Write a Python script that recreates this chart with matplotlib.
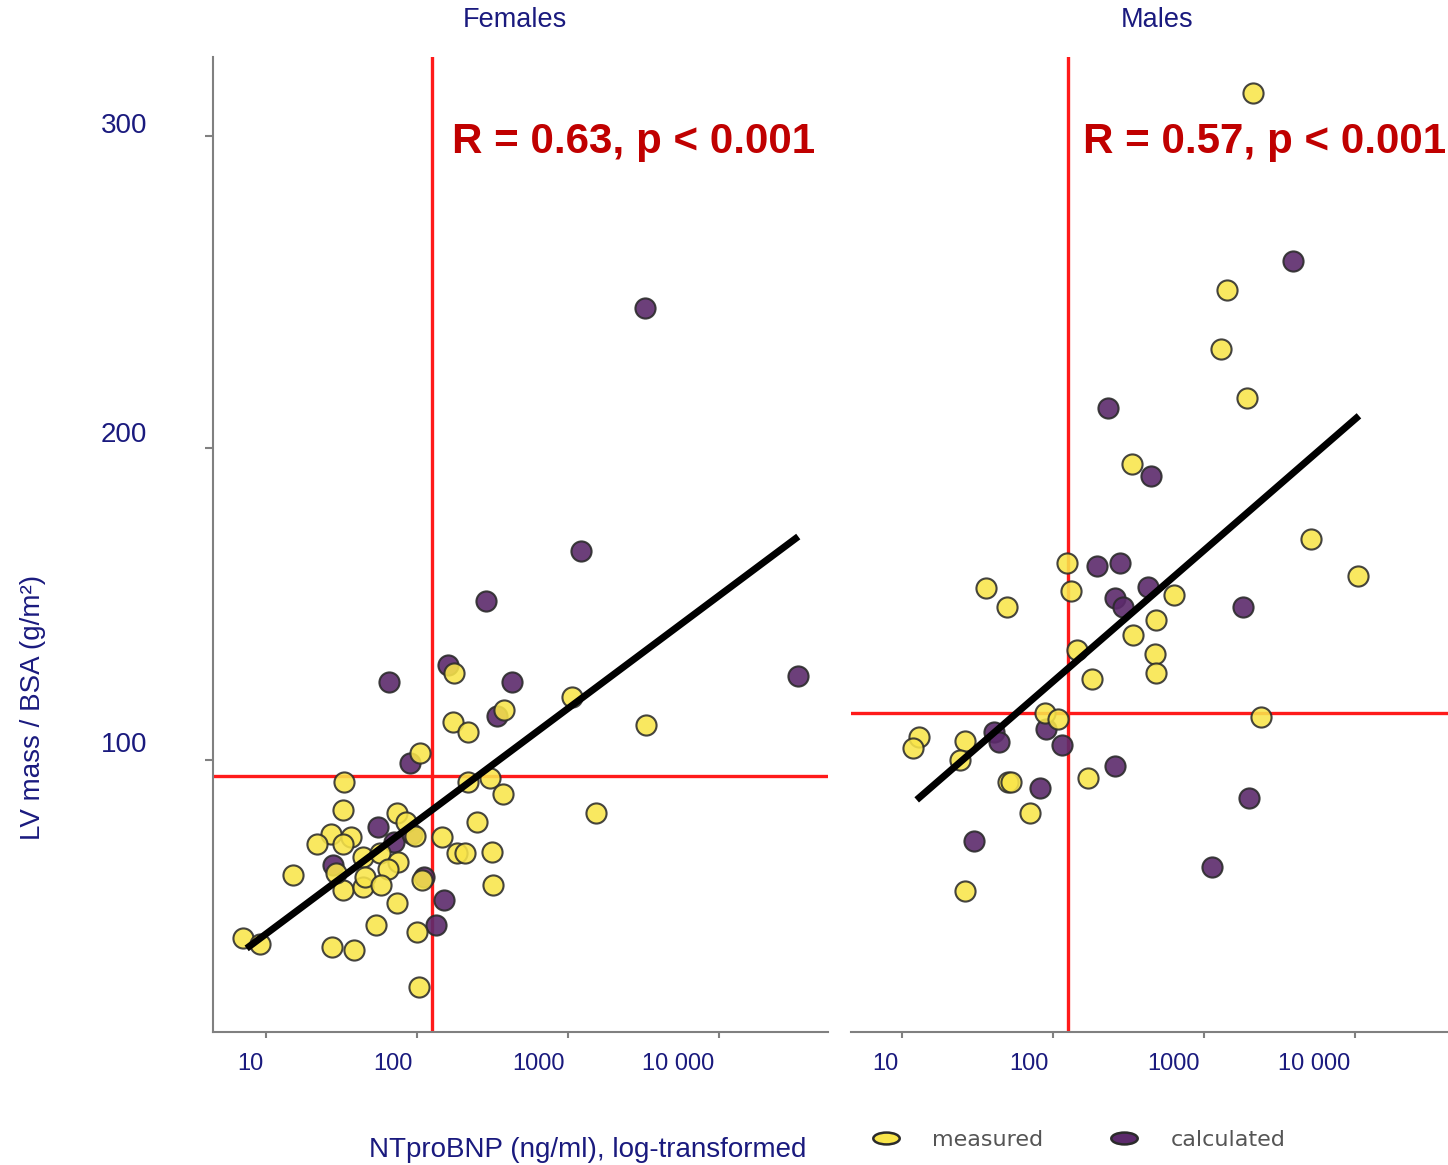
import matplotlib
matplotlib.use("Agg")
import matplotlib.pyplot as plt
from matplotlib.ticker import FixedLocator, FixedFormatter, NullFormatter
from matplotlib.lines import Line2D
from matplotlib.path import Path
from matplotlib.transforms import Affine2D, Bbox, TransformedBbox

plt.rcParams['font.family'] = ['Liberation Sans', 'DejaVu Sans']

# ---------------- data ----------------
# Females, measured (NTproBNP, LV mass/BSA)
fem_meas_x = [32.7, 215, 302, 370, 32, 73.5, 83.5, 250, 145, 26.7, 36.3, 21.7, 32, 43.8, 56.5,
              182, 206, 310, 74.6, 64.1, 14.9, 32, 43.8, 44.9, 57.3, 73.5, 318, 7.0, 9.06, 53.1,
              98.8, 27.0, 38.0, 102, 173, 217, 104, 175, 374, 28.7, 107, 96.2, 1055, 3260, 1521]
fem_meas_y = [93.0, 93.0, 94.1, 89.1, 84.0, 83.1, 80.2, 80.2, 75.2, 76.2, 75.4, 73.1, 73.1, 69.0, 70.1,
              70.1, 70.1, 70.4, 67.4, 65.0, 63.1, 58.3, 59.2, 62.4, 59.9, 54.1, 59.9, 42.9, 41.0, 47.1,
              45.0, 40.2, 39.1, 27.3, 112.3, 109.1, 102.1, 127.8, 116.0, 63.7, 61.5, 75.6, 120.2, 111.2, 83.0]
# Females, calculated
fem_calc_x = [3210, 1210, 284, 33100, 160, 65.1, 421, 335, 89.2, 54.5, 69.9, 27.7, 110, 150, 133, 92]
fem_calc_y = [244.9, 167.0, 151.0, 126.9, 130.4, 125.1, 125.1, 114.1, 98.9, 78.4, 73.8, 66.3, 62.4,
              55.1, 47.1, 76.3]
# Males, measured
mal_meas_x = [123, 131, 36.0, 49.4, 636, 479, 340, 144, 473, 479, 180, 88.5, 108, 2385, 13.0, 11.9,
              26.1, 24.2, 50.6, 52.4, 170, 70.4, 26.1, 2110, 1420, 1296, 1927, 334, 5110, 10470]
mal_meas_y = [163.0, 154.2, 155.0, 148.9, 152.9, 144.9, 140.1, 135.3, 134.0, 127.8, 126.0, 115.2, 113.0,
              113.9, 107.3, 103.8, 106.2, 100.0, 93.0, 92.9, 94.1, 82.9, 58.1, 313.8, 250.6, 231.7,
              216.0, 194.9, 170.8, 159.0]
# Males, calculated
mal_calc_x = [197, 278, 428, 257, 292, 1820, 40.8, 43.9, 89.5, 115, 257, 82.0, 1986, 30.1, 1125, 3880, 231, 446]
mal_calc_y = [162.0, 163.0, 155.5, 152.0, 148.9, 148.9, 109.1, 105.9, 109.8, 104.8, 97.9, 90.9, 87.9,
              74.1, 65.8, 259.9, 212.8, 191.0]

# regression line end points
fem_fit_x = [7.4, 33270]
fem_fit_y = [39.6, 171.6]
mal_fit_x = [12.5, 10620]
mal_fit_y = [87.2, 210.3]

# cut-offs
bnp_cut = 125
fem_lvm_cut = 95
mal_lvm_cut = 115

panel_titles = ['Females', 'Males']
stats_text = ['R = 0.63, p < 0.001', 'R = 0.57, p < 0.001']

x_ticks = [10, 100, 1000, 10000]
x_label_pos = [7.8, 69, 630, 5330]
x_tick_labels = ['10', '100', '1000', '10 000']
y_ticks = [100, 200, 300]
y_label_pos = [105.8, 205.1, 304.2]
y_tick_labels = ['100', '200', '300']

legend_labels = ['measured', 'calculated']

# ---------------- style ----------------
NAVY = '#1a1a7e'
YEL = '#f9e54a'
PUR = '#5c2a6c'
EDGE = '#2b2b2b'
RED = '#ff1a1a'
DARKRED = '#c00000'
GRAY = '#808080'

W, H = 1448, 1165
fig = plt.figure(figsize=(W / 100, H / 100), dpi=100)
ax1 = fig.add_axes([213 / W, 133 / H, 615 / W, 975 / H])
ax2 = fig.add_axes([851 / W, 133 / H, 597 / W, 975 / H])

ylim = (12.8, 325.3)
panels = [
    (ax1, fem_meas_x, fem_meas_y, fem_calc_x, fem_calc_y, fem_fit_x, fem_fit_y, fem_lvm_cut, (4.43, 52360), 0.491),
    (ax2, mal_meas_x, mal_meas_y, mal_calc_x, mal_calc_y, mal_fit_x, mal_fit_y, mal_lvm_cut, (4.59, 41300), 0.5126),
]

for i, (ax, mx, my, cx, cy, fx, fy, hcut, xlim, tx) in enumerate(panels):
    ax.set_xscale('log')
    ax.set_xlim(*xlim)
    ax.set_ylim(*ylim)
    ax.axvline(bnp_cut, color=RED, lw=2.4, zorder=1)
    ax.axhline(hcut, color=RED, lw=2.4, zorder=1)
    ax.scatter(cx, cy, s=210, c=PUR, edgecolors=EDGE, linewidths=1.5, alpha=0.9, zorder=3)
    ax.scatter(mx, my, s=210, c=YEL, edgecolors=EDGE, linewidths=1.5, alpha=0.88, zorder=4)
    ax.plot(fx, fy, color='black', lw=5, solid_capstyle='butt', zorder=5)

    for s in ['top', 'right']:
        ax.spines[s].set_visible(False)
    ax.spines['bottom'].set_color(GRAY)
    ax.spines['bottom'].set_linewidth(1.5)

    ax.xaxis.set_major_locator(FixedLocator(x_ticks))
    ax.xaxis.set_major_formatter(NullFormatter())
    ax.xaxis.set_minor_locator(FixedLocator(x_label_pos))
    ax.xaxis.set_minor_formatter(FixedFormatter(x_tick_labels))
    ax.tick_params(axis='x', which='major', length=4.5, width=1.5, color=GRAY, direction='out')
    ax.tick_params(axis='x', which='minor', length=0, pad=15, labelsize=17, labelcolor=NAVY)

    ax.set_title(panel_titles[i], fontsize=19.5, color=NAVY, x=tx, pad=21.5)
    ax.text(0.3886, 0.9018, stats_text[i], transform=ax.transAxes, fontsize=30.3, fontweight='bold',
            color=DARKRED, va='baseline', ha='left', clip_on=False, zorder=6)

# Females y axis
ax1.spines['left'].set_color(GRAY)
ax1.spines['left'].set_linewidth(1.5)
ax1.yaxis.set_major_locator(FixedLocator(y_ticks))
ax1.yaxis.set_major_formatter(NullFormatter())
ax1.yaxis.set_minor_locator(FixedLocator(y_label_pos))
ax1.yaxis.set_minor_formatter(FixedFormatter(y_tick_labels))
ax1.tick_params(axis='y', which='major', length=5.5, width=1.5, color=GRAY, direction='out')
ax1.tick_params(axis='y', which='minor', length=0, pad=47.5, labelsize=20, labelcolor=NAVY)

# Males: no y axis
ax2.spines['left'].set_visible(False)
ax2.tick_params(axis='y', which='both', left=False, labelleft=False)

# axis labels
fig.text(33 / W, 1 - 707 / H, 'LV mass / BSA (g/m²)', rotation=90, ha='center', va='center',
         fontsize=20, color=NAVY)
fig.text(588 / W, 15 / H, 'NTproBNP (ng/ml), log-transformed', ha='center', va='center',
         fontsize=20, color=NAVY)

# legend
ell = Path.unit_circle().transformed(Affine2D().scale(1, 0.45))
handles = [
    Line2D([], [], marker=ell, markersize=19, linestyle='None', markerfacecolor=YEL,
           markeredgecolor=EDGE, markeredgewidth=1.8),
    Line2D([], [], marker=ell, markersize=19, linestyle='None', markerfacecolor=PUR,
           markeredgecolor=EDGE, markeredgewidth=1.8),
]
leg = fig.legend(handles, legend_labels, loc='center left', bbox_to_anchor=(864 / W, 25 / H),
                 ncol=2, frameon=False, handlelength=2, handletextpad=1.07,
                 columnspacing=2.65, borderpad=0, borderaxespad=0,
                 prop={'family': 'DejaVu Sans', 'size': 16})
for t in leg.get_texts():
    t.set_color('#555555')
t0 = leg.get_texts()[0]
t0.set_clip_box(TransformedBbox(Bbox([[0, 0], [1055 / W, 1]]), fig.transFigure))
t0.set_clip_on(True)

fig.savefig('out.png', dpi=100)
